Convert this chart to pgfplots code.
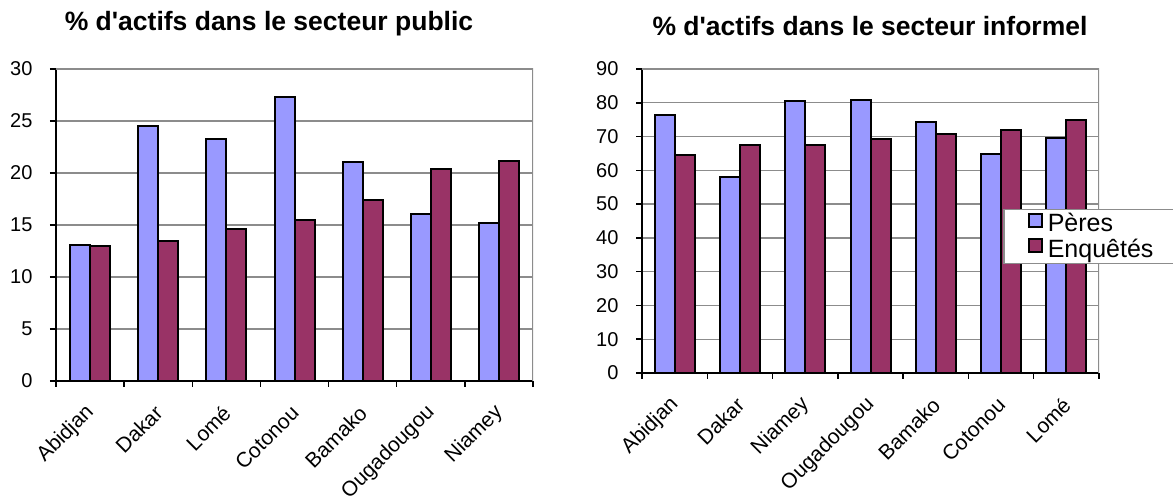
\documentclass[border=0pt]{standalone}
\usepackage{fontspec}
\setmainfont{Liberation Sans}[Ligatures=TeXOff]
\usepackage{pgfplots}
\pgfplotsset{compat=1.18}

\definecolor{peres}{HTML}{9999FF}
\definecolor{enquetes}{HTML}{993366}
\definecolor{gridgray}{HTML}{8C8C8C}

\pgfplotsset{
  villes/.style={
    scale only axis,
    anchor=south west,
    xmin=-0.5, xmax=6.5,
    ymin=0,
    axis x line*=bottom, axis y line*=left,
    axis line style={-, black, line width=1.5pt},
    ybar=0pt,
    bar width=20pt,
    xtick={0,...,6},
    minor xtick={-0.5,0.5,...,6.5},
    major x tick style={draw=none},
    tick align=outside,
    tick style={black, line width=1.5pt},
    major tick length=6pt,
    minor tick length=6pt,
    ymajorgrids,
    major grid style={gridgray, line width=1.3pt},
    /pgf/number format/assume math mode=true,
    yticklabel style={font=\fontsize{20}{24}\selectfont, xshift=-14pt},
    xticklabel style={font=\fontsize{21}{25}\selectfont,
      xshift=3pt, yshift=-20pt, rotate=45, anchor=east},
    legend image code/.code={\draw[#1] (0pt,-3pt) rectangle (13pt,10pt);
      \path (16pt,0pt);},
  }
}

\begin{document}
\begin{tikzpicture}
\useasboundingbox (0pt,0pt) rectangle (1173pt,502pt);

% secteur public
\begin{axis}[villes, at={(56pt,121pt)}, width=477pt, height=312pt,
  ymax=30, ytick={0,5,...,30},
  xticklabels={Abidjan,Dakar,Lomé,Cotonou,Bamako,Ougadougou,Niamey}]
\addplot[fill=peres, draw=black, line width=2pt]
  coordinates {(0,13.1) (1,24.5) (2,23.3) (3,27.3) (4,21.1) (5,16.1) (6,15.2)};
\addplot[fill=enquetes, draw=black, line width=2pt]
  coordinates {(0,13.0) (1,13.5) (2,14.65) (3,15.5) (4,17.4) (5,20.35) (6,21.2)};
\draw[gridgray, line width=2pt] (rel axis cs:0,1) -- (rel axis cs:1,1) -- (rel axis cs:1,0);
\end{axis}

% secteur informel
\begin{axis}[villes, at={(642pt,129pt)}, width=457pt, height=304pt,
  ymax=90, ytick={0,10,...,90},
  xticklabels={Abidjan,Dakar,Niamey,Ougadougou,Bamako,Cotonou,Lomé},
  legend cell align=left,
  legend style={at={(0.790,0.54)}, anchor=north west, draw=gridgray,
    line width=1.5pt, fill=white, font=\fontsize{25}{30}\selectfont,
    inner xsep=24pt, inner ysep=2pt, row sep=2pt}]
\addplot[fill=peres, draw=black, line width=2pt]
  coordinates {(0,76.5) (1,58.1) (2,80.6) (3,80.8) (4,74.3) (5,64.8) (6,69.5)};
\addplot[fill=enquetes, draw=black, line width=2pt]
  coordinates {(0,64.6) (1,67.5) (2,67.5) (3,69.4) (4,70.7) (5,71.9) (6,74.9)};
\draw[gridgray, line width=2pt] (rel axis cs:0,1) -- (rel axis cs:1,1) -- (rel axis cs:1,0);
\legend{Pères\hspace*{12pt}, Enquêtés\hspace*{12pt}}
\end{axis}

\node[anchor=base, font=\fontsize{26.5}{32}\selectfont\bfseries] at (269pt,471pt)
  {\% d'actifs dans le secteur public};
\node[anchor=base, font=\fontsize{26.5}{32}\selectfont\bfseries] at (870pt,466pt)
  {\% d'actifs dans le secteur informel};
\end{tikzpicture}
\end{document}
